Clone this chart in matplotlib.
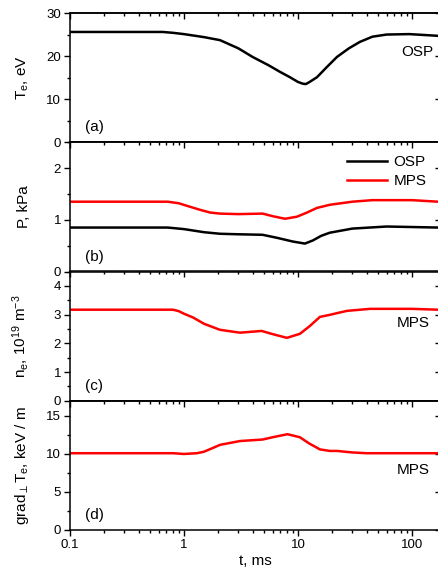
import numpy as np
import matplotlib
matplotlib.use('Agg')
import matplotlib.pyplot as plt
from matplotlib.ticker import MultipleLocator, FixedLocator, FixedFormatter, LogLocator, NullFormatter

plt.rcParams['font.family'] = ['Liberation Sans', 'DejaVu Sans']
plt.rcParams['mathtext.fontset'] = 'custom'
plt.rcParams['mathtext.rm'] = 'Liberation Sans'
plt.rcParams['mathtext.it'] = 'Liberation Sans'

# (a) Te at OSP
t_te = [0.1, 0.65, 0.8, 1.0, 1.5, 2.07, 3.0, 4.0, 5.5, 7.0, 8.5, 10.0, 11.0, 11.7, 12.5, 14.7, 18.0, 22.0, 28.0, 35.0, 45.0, 60.0, 95.0, 170.0]
te_osp = [25.6, 25.6, 25.4, 25.1, 24.4, 23.7, 21.8, 19.8, 17.9, 16.3, 15.1, 14.0, 13.6, 13.5, 13.9, 15.1, 17.5, 19.8, 21.8, 23.3, 24.5, 25.0, 25.1, 24.7]

# (b) pressure
t_p = [0.1, 0.72, 0.9, 1.1, 1.4, 1.7, 2.07, 3.0, 4.9, 6.0, 7.7, 9.8, 12.0, 14.7, 19.0, 30.0, 45.0, 100.0, 170.0]
p_mps = [1.35, 1.35, 1.32, 1.26, 1.19, 1.14, 1.12, 1.11, 1.12, 1.07, 1.02, 1.06, 1.14, 1.23, 1.29, 1.35, 1.38, 1.38, 1.35]
t_p2 = [0.1, 0.72, 1.0, 1.5, 2.07, 3.0, 4.9, 6.6, 9.0, 11.5, 13.5, 16.0, 19.0, 30.0, 60.0, 170.0]
p_osp = [0.85, 0.85, 0.82, 0.76, 0.73, 0.72, 0.71, 0.65, 0.58, 0.54, 0.60, 0.69, 0.75, 0.83, 0.87, 0.85]

# (c) density at MPS
t_n = [0.1, 0.8, 0.9, 1.0, 1.2, 1.5, 2.07, 3.1, 4.8, 6.0, 8.0, 10.4, 12.7, 15.6, 19.0, 22.0, 27.0, 43.0, 100.0, 170.0]
n_mps = [3.17, 3.17, 3.12, 3.03, 2.9, 2.68, 2.47, 2.37, 2.43, 2.32, 2.19, 2.33, 2.6, 2.92, 2.99, 3.05, 3.13, 3.2, 3.2, 3.17]

# (d) grad Te at MPS
t_g = [0.1, 0.8, 1.0, 1.3, 1.5, 1.8, 2.07, 3.1, 4.9, 6.0, 8.1, 10.4, 12.5, 15.6, 19.0, 22.0, 30.0, 40.0, 170.0]
g_mps = [10.1, 10.1, 10.0, 10.1, 10.3, 10.8, 11.2, 11.7, 11.9, 12.2, 12.6, 12.2, 11.4, 10.6, 10.4, 10.4, 10.2, 10.1, 10.1]

xticks = [0.1, 1, 10, 100]
xticklabels = ['0.1', '1', '10', '100']

fig = plt.figure(figsize=(4.39, 5.71), dpi=100)
W, H = 439.0, 571.0
left, right, top, bottom = 70, 441, 13, 530
ph = (bottom - top) / 4.0
axes = []
for i in range(4):
    y0 = top + (i + 1) * ph
    ax = fig.add_axes([left / W, 1 - y0 / H, (right - left) / W, ph / H])
    axes.append(ax)

lw = 1.8
axes[0].plot(t_te, te_osp, color='black', lw=lw)
axes[1].plot(t_p2, p_osp, color='black', lw=lw, label='OSP')
axes[1].plot(t_p, p_mps, color='red', lw=lw, label='MPS')
axes[2].plot(t_n, n_mps, color='red', lw=lw)
axes[3].plot(t_g, g_mps, color='red', lw=lw)

ylims = [(0, 30), (0, 2.5), (0, 4.5), (0, 17)]
majors = [10, 1, 1, 5]
minors = [5, 0.5, 0.5, 2.5]
ylabels = [r'T$_e$, eV', 'P, kPa', r'n$_e$, 10$^{19}$ m$^{-3}$', r'grad$_\perp$T$_e$, keV / m']
tags = ['(a)', '(b)', '(c)', '(d)']
fs = 11

for ax, yl, mj, mn, lab, tag in zip(axes, ylims, majors, minors, ylabels, tags):
    ax.set_xscale('log')
    ax.set_xlim(0.1, 180)
    ax.set_ylim(*yl)
    ax.yaxis.set_major_locator(MultipleLocator(mj))
    ax.yaxis.set_minor_locator(MultipleLocator(mn))
    ax.xaxis.set_major_locator(FixedLocator(xticks))
    ax.xaxis.set_major_formatter(FixedFormatter(xticklabels))
    ax.xaxis.set_minor_locator(LogLocator(base=10, subs=np.arange(2, 10)))
    ax.xaxis.set_minor_formatter(NullFormatter())
    for s in ax.spines.values():
        s.set_linewidth(1.1)
    ax.tick_params(which='both', left=True, right=False, top=False, bottom=True, width=1.0,
                   direction='out', labelsize=9.5)
    ax.tick_params(which='major', length=4.5, pad=2)
    ax.tick_params(which='minor', length=2.5)
    ax.set_ylabel(lab, fontsize=fs)
    ax.yaxis.set_label_coords(-0.105, 0.5)
    ax.text(0.04, 0.06, tag, transform=ax.transAxes, fontsize=fs, ha='left', va='bottom')
    if ax is not axes[3]:
        ax.tick_params(axis='x', labelbottom=False)

    # top and right ticks point inward
    sx = ax.secondary_xaxis('top')
    sx.xaxis.set_major_locator(FixedLocator(xticks))
    sx.xaxis.set_minor_locator(LogLocator(base=10, subs=np.arange(2, 10)))
    sx.tick_params(which='both', direction='in', width=1.0, labeltop=False)
    sx.tick_params(which='major', length=4.5)
    sx.tick_params(which='minor', length=2.5)
    sx.spines['top'].set_linewidth(1.1)
    sy = ax.secondary_yaxis('right')
    sy.yaxis.set_major_locator(MultipleLocator(mj))
    sy.yaxis.set_minor_locator(MultipleLocator(mn))
    sy.tick_params(which='both', direction='in', width=1.0, labelright=False)
    sy.tick_params(which='major', length=4.5)
    sy.tick_params(which='minor', length=2.5)

axes[0].text(0.935, 0.70, 'OSP', transform=axes[0].transAxes, fontsize=fs, ha='center', va='center')
axes[2].text(0.925, 0.60, 'MPS', transform=axes[2].transAxes, fontsize=fs, ha='center', va='center')
axes[3].text(0.925, 0.465, 'MPS', transform=axes[3].transAxes, fontsize=fs, ha='center', va='center')
axes[1].legend(loc='upper right', bbox_to_anchor=(0.985, 0.97), frameon=False, fontsize=fs,
               handlelength=2.6, handletextpad=0.4, labelspacing=0.3, borderaxespad=0.2)
axes[3].set_xlabel('t, ms', fontsize=fs, labelpad=2)

fig.savefig('out.png', dpi=100)
